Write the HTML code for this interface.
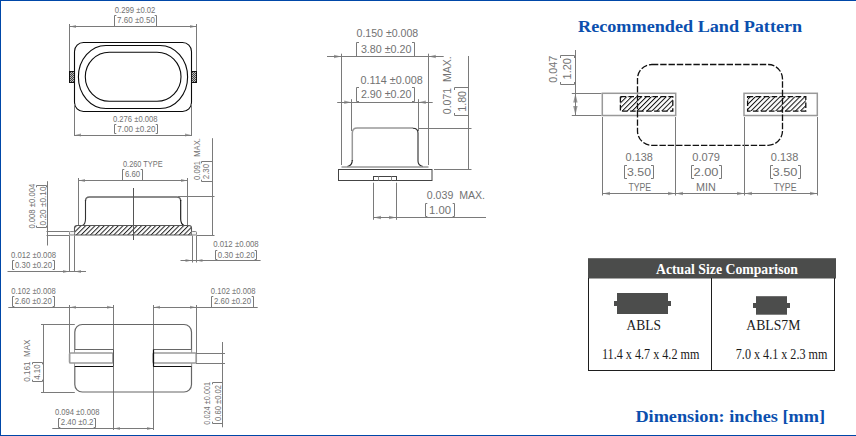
<!DOCTYPE html><html><head><meta charset="utf-8"><style>html,body{margin:0;padding:0;background:#fff;width:856px;height:436px;overflow:hidden}svg{display:block}</style></head><body>
<svg width="856" height="436" viewBox="0 0 856 436">
<defs>
<pattern id="h45" patternUnits="userSpaceOnUse" width="3.3" height="3.3" patternTransform="translate(-2 0) rotate(45)"><rect width="3.3" height="3.3" fill="#fff"/><rect x="0" y="0" width="1" height="3.3" fill="#222"/></pattern>
<pattern id="h45b" patternUnits="userSpaceOnUse" width="3.5" height="3.5" patternTransform="rotate(45)"><rect width="3.5" height="3.5" fill="#fff"/><rect x="0" y="0" width="1" height="3.5" fill="#111"/></pattern>
<pattern id="xh" patternUnits="userSpaceOnUse" width="2" height="2"><rect width="2" height="2" fill="#bbb"/><rect width="1" height="1" fill="#444"/><rect x="1" y="1" width="1" height="1" fill="#444"/></pattern>
</defs>
<rect width="856" height="436" fill="#fff"/>
<polygon points="70,26.5 76,25.0 76,28.0" fill="#a0a0a0"/>
<polygon points="196,26.5 190,25.0 190,28.0" fill="#a0a0a0"/>
<polygon points="75,135 81,133.5 81,136.5" fill="#a0a0a0"/>
<polygon points="191,135 185,133.5 185,136.5" fill="#a0a0a0"/>
<polygon points="79,180.5 85,179.0 85,182.0" fill="#a0a0a0"/>
<polygon points="187,180.5 181,179.0 181,182.0" fill="#a0a0a0"/>
<polygon points="69,271.4 63,269.9 63,272.9" fill="#a0a0a0"/>
<polygon points="75,271.4 81,269.9 81,272.9" fill="#a0a0a0"/>
<polygon points="191.5,260.5 185.5,259.0 185.5,262.0" fill="#a0a0a0"/>
<polygon points="196.5,260.5 202.5,259.0 202.5,262.0" fill="#a0a0a0"/>
<polygon points="70,307.3 76,305.8 76,308.8" fill="#a0a0a0"/>
<polygon points="113,307.3 107,305.8 107,308.8" fill="#a0a0a0"/>
<polygon points="154,307.3 160,305.8 160,308.8" fill="#a0a0a0"/>
<polygon points="196,307.3 190,305.8 190,308.8" fill="#a0a0a0"/>
<polygon points="114,428.5 120,427.0 120,430.0" fill="#a0a0a0"/>
<polygon points="153,428.5 147,427.0 147,430.0" fill="#a0a0a0"/>
<polygon points="341,56.5 334,54.7 334,58.3" fill="#a0a0a0"/>
<polygon points="428.8,56.5 435.8,54.7 435.8,58.3" fill="#a0a0a0"/>
<polygon points="351.2,102.2 344.2,100.4 344.2,104.0" fill="#a0a0a0"/>
<polygon points="418.8,102.2 425.8,100.4 425.8,104.0" fill="#a0a0a0"/>
<polygon points="374,217.5 381,215.7 381,219.3" fill="#a0a0a0"/>
<polygon points="396,217.5 389,215.7 389,219.3" fill="#a0a0a0"/>
<polygon points="575.4,93.5 573.1999999999999,102.5 577.6,102.5" fill="#999"/>
<polygon points="575.4,115 573.1999999999999,106 577.6,106" fill="#999"/>
<polygon points="603,193.5 610,191.7 610,195.3" fill="#a0a0a0"/>
<polygon points="675,193.5 668,191.7 668,195.3" fill="#a0a0a0"/>
<polygon points="676,193.5 683,191.7 683,195.3" fill="#a0a0a0"/>
<polygon points="744,193.5 737,191.7 737,195.3" fill="#a0a0a0"/>
<polygon points="745,193.5 752,191.7 752,195.3" fill="#a0a0a0"/>
<polygon points="817,193.5 810,191.7 810,195.3" fill="#a0a0a0"/>
<line x1="69.5" y1="24" x2="69.5" y2="71" stroke="#7a7a7a" stroke-width="1" />
<line x1="196.5" y1="24" x2="196.5" y2="71" stroke="#7a7a7a" stroke-width="1" />
<line x1="69.5" y1="26.5" x2="196.5" y2="26.5" stroke="#7a7a7a" stroke-width="1" />
<text x="114.8" y="13" font-family="Liberation Sans" font-size="8.4" font-weight="normal" fill="#727272" textLength="40.60" lengthAdjust="spacingAndGlyphs">0.299 &#177;0.02</text>
<path d="M116.3,15.5 H114.5 V26.5 H116.3 M154.7,15.5 H156.5 V26.5 H154.7" fill="none" stroke="#7a7a7a" stroke-width="1"/>
<text x="117" y="22.9" font-family="Liberation Sans" font-size="8.4" font-weight="normal" fill="#727272" textLength="38.00" lengthAdjust="spacingAndGlyphs">7.60 &#177;0.50</text>
<rect x="74.5" y="42.5" width="117" height="69" rx="9" ry="9" fill="none" stroke="#0a0a0a" stroke-width="1.1"/>
<path d="M106,45.5 H160 A27.6,31.5 0 0 1 160,108.5 H106 A27.6,31.5 0 0 1 106,45.5 Z" fill="none" stroke="#0a0a0a" stroke-width="1.1"/>
<path d="M109.3,52.3 H157 A24,24.5 0 0 1 157,101.3 H109.3 A24,24.5 0 0 1 109.3,52.3 Z" fill="none" stroke="#0a0a0a" stroke-width="1.1"/>
<rect x="69.5" y="71.5" width="5" height="11" fill="url(#xh)" stroke="#111" stroke-width="1"/>
<rect x="191.5" y="71.5" width="5" height="11" fill="url(#xh)" stroke="#111" stroke-width="1"/>
<line x1="74.5" y1="104" x2="74.5" y2="136" stroke="#7a7a7a" stroke-width="1" />
<line x1="191.5" y1="104" x2="191.5" y2="136" stroke="#7a7a7a" stroke-width="1" />
<line x1="74.5" y1="135.5" x2="191.5" y2="135.5" stroke="#7a7a7a" stroke-width="1" />
<text x="113" y="121.9" font-family="Liberation Sans" font-size="8.4" font-weight="normal" fill="#727272" textLength="44.50" lengthAdjust="spacingAndGlyphs">0.276 &#177;0.008</text>
<path d="M116.3,124.5 H114.5 V133.5 H116.3 M155.7,124.5 H157.5 V133.5 H155.7" fill="none" stroke="#7a7a7a" stroke-width="1"/>
<text x="117.3" y="131.8" font-family="Liberation Sans" font-size="8.4" font-weight="normal" fill="#727272" textLength="38.20" lengthAdjust="spacingAndGlyphs">7.00 &#177;0.20</text>
<line x1="78.5" y1="178" x2="78.5" y2="225.5" stroke="#7a7a7a" stroke-width="1" />
<line x1="187.5" y1="178" x2="187.5" y2="225.5" stroke="#7a7a7a" stroke-width="1" />
<line x1="78.5" y1="180.5" x2="187.5" y2="180.5" stroke="#7a7a7a" stroke-width="1" />
<text x="123" y="166.6" font-family="Liberation Sans" font-size="8.4" font-weight="normal" fill="#727272" textLength="39.60" lengthAdjust="spacingAndGlyphs">0.260 TYPE</text>
<path d="M124.3,169.5 H122.5 V180.5 H124.3 M140.7,169.5 H142.5 V180.5 H140.7" fill="none" stroke="#7a7a7a" stroke-width="1"/>
<text x="124.9" y="176.9" font-family="Liberation Sans" font-size="8.4" font-weight="normal" fill="#727272" textLength="15.20" lengthAdjust="spacingAndGlyphs">6.60</text>
<path d="M85.5,201 Q85.5,197 89.5,197 H176.7 Q180.7,197 180.7,201" fill="none" stroke="#666" stroke-width="1.3"/>
<path d="M82.5,225.5 Q85.5,224 85.5,219 V200" fill="none" stroke="#333" stroke-width="1.1"/>
<path d="M184,225.5 Q180.7,224 180.7,219 V200" fill="none" stroke="#111" stroke-width="1.1"/>
<line x1="133.5" y1="188" x2="133.5" y2="240" stroke="#555" stroke-width="1" />
<path d="M74.5,228 Q74.5,225.5 77,225.5 H189 Q191.5,225.5 191.5,228 V235 H74.5 Z" fill="url(#h45)" stroke="#555" stroke-width="1.1"/>
<line x1="133.5" y1="225" x2="133.5" y2="240" stroke="#555" stroke-width="1" />
<rect x="69.5" y="231.5" width="5" height="3.5" rx="1" fill="#f4f4f4" stroke="#777" stroke-width="0.9"/>
<rect x="191.5" y="231.5" width="5" height="3.5" rx="1" fill="#f4f4f4" stroke="#777" stroke-width="0.9"/>
<line x1="46.5" y1="231.5" x2="69.5" y2="231.5" stroke="#7a7a7a" stroke-width="1" />
<line x1="46.5" y1="235.5" x2="69.5" y2="235.5" stroke="#7a7a7a" stroke-width="1" />
<line x1="47.5" y1="181.2" x2="47.5" y2="245.5" stroke="#7a7a7a" stroke-width="1" />
<text transform="translate(34.8,228.6) rotate(-90)" x="0" y="0" font-family="Liberation Sans" font-size="8.4" fill="#727272" textLength="44.80" lengthAdjust="spacingAndGlyphs">0.008 &#177;0.004</text>
<path d="M36.5,187.3 V185.5 H46.5 V187.3 M36.5,225.7 V227.5 H46.5 V225.7" fill="none" stroke="#7a7a7a" stroke-width="1"/>
<text transform="translate(45.5,225.4) rotate(-90)" x="0" y="0" font-family="Liberation Sans" font-size="8.4" fill="#727272" textLength="38.90" lengthAdjust="spacingAndGlyphs">0.20 &#177;0.10</text>
<line x1="69.5" y1="235.5" x2="69.5" y2="272" stroke="#7a7a7a" stroke-width="1" />
<line x1="74.5" y1="235.5" x2="74.5" y2="272" stroke="#7a7a7a" stroke-width="1" />
<line x1="7.5" y1="271.5" x2="86" y2="271.5" stroke="#7a7a7a" stroke-width="1" />
<text x="11" y="257.7" font-family="Liberation Sans" font-size="8.4" font-weight="normal" fill="#727272" textLength="45.00" lengthAdjust="spacingAndGlyphs">0.012 &#177;0.008</text>
<path d="M14.3,260.5 H12.5 V269.5 H14.3 M52.7,260.5 H54.5 V269.5 H52.7" fill="none" stroke="#7a7a7a" stroke-width="1"/>
<text x="15" y="268" font-family="Liberation Sans" font-size="8.4" font-weight="normal" fill="#727272" textLength="37.00" lengthAdjust="spacingAndGlyphs">0.30 &#177;0.20</text>
<line x1="178" y1="196.5" x2="214.5" y2="196.5" stroke="#7a7a7a" stroke-width="1" />
<line x1="212.5" y1="138.2" x2="212.5" y2="235.5" stroke="#7a7a7a" stroke-width="1" />
<line x1="196.5" y1="235.5" x2="214.5" y2="235.5" stroke="#7a7a7a" stroke-width="1" />
<text transform="translate(199.8,179.9) rotate(-90)" x="0" y="0" font-family="Liberation Sans" font-size="8.4" fill="#727272" textLength="41.70" lengthAdjust="spacingAndGlyphs">0.091&#160;&#160;MAX.</text>
<path d="M201.5,163.3 V161.5 H212.5 V163.3 M201.5,179.7 V181.5 H212.5 V179.7" fill="none" stroke="#7a7a7a" stroke-width="1"/>
<text transform="translate(209.1,179.3) rotate(-90)" x="0" y="0" font-family="Liberation Sans" font-size="8.4" fill="#727272" textLength="15.50" lengthAdjust="spacingAndGlyphs">2.30</text>
<line x1="192.5" y1="235.5" x2="192.5" y2="262.5" stroke="#7a7a7a" stroke-width="1" />
<line x1="196.5" y1="235.5" x2="196.5" y2="262.5" stroke="#7a7a7a" stroke-width="1" />
<line x1="180.5" y1="260.5" x2="260.6" y2="260.5" stroke="#7a7a7a" stroke-width="1" />
<text x="213.2" y="246.8" font-family="Liberation Sans" font-size="8.4" font-weight="normal" fill="#727272" textLength="45.50" lengthAdjust="spacingAndGlyphs">0.012 &#177;0.008</text>
<path d="M217.3,250.5 H215.5 V259.5 H217.3 M254.7,250.5 H256.5 V259.5 H254.7" fill="none" stroke="#7a7a7a" stroke-width="1"/>
<text x="217.8" y="257.9" font-family="Liberation Sans" font-size="8.4" font-weight="normal" fill="#727272" textLength="37.00" lengthAdjust="spacingAndGlyphs">0.30 &#177;0.20</text>
<text x="11.2" y="293.8" font-family="Liberation Sans" font-size="8.4" font-weight="normal" fill="#727272" textLength="44.50" lengthAdjust="spacingAndGlyphs">0.102 &#177;0.008</text>
<path d="M14.3,296.5 H12.5 V306.5 H14.3 M52.7,296.5 H54.5 V306.5 H52.7" fill="none" stroke="#7a7a7a" stroke-width="1"/>
<text x="14.8" y="303.6" font-family="Liberation Sans" font-size="8.4" font-weight="normal" fill="#727272" textLength="37.00" lengthAdjust="spacingAndGlyphs">2.60 &#177;0.20</text>
<line x1="8.3" y1="307.5" x2="113.5" y2="307.5" stroke="#7a7a7a" stroke-width="1" />
<line x1="69.5" y1="305" x2="69.5" y2="353" stroke="#7a7a7a" stroke-width="1" />
<line x1="113.5" y1="305" x2="113.5" y2="430" stroke="#7a7a7a" stroke-width="1" />
<text x="210.8" y="294" font-family="Liberation Sans" font-size="8.4" font-weight="normal" fill="#727272" textLength="44.60" lengthAdjust="spacingAndGlyphs">0.102 &#177;0.008</text>
<path d="M213.3,296.5 H211.5 V307.5 H213.3 M251.7,296.5 H253.5 V307.5 H251.7" fill="none" stroke="#7a7a7a" stroke-width="1"/>
<text x="214" y="303.8" font-family="Liberation Sans" font-size="8.4" font-weight="normal" fill="#727272" textLength="37.00" lengthAdjust="spacingAndGlyphs">2.60 &#177;0.20</text>
<line x1="153.5" y1="307.5" x2="257.7" y2="307.5" stroke="#7a7a7a" stroke-width="1" />
<line x1="153.5" y1="305" x2="153.5" y2="430" stroke="#7a7a7a" stroke-width="1" />
<line x1="196.5" y1="305" x2="196.5" y2="353" stroke="#7a7a7a" stroke-width="1" />
<rect x="74.8" y="324.5" width="116.7" height="67.5" rx="7.5" ry="7.5" fill="none" stroke="#666" stroke-width="1.2"/>
<line x1="41" y1="324.5" x2="74.8" y2="324.5" stroke="#7a7a7a" stroke-width="1" />
<line x1="41" y1="392.5" x2="74.8" y2="392.5" stroke="#7a7a7a" stroke-width="1" />
<line x1="43.5" y1="324.5" x2="43.5" y2="392" stroke="#7a7a7a" stroke-width="1" />
<text transform="translate(30.2,381.7) rotate(-90)" x="0" y="0" font-family="Liberation Sans" font-size="8.4" fill="#727272" textLength="42.10" lengthAdjust="spacingAndGlyphs">0.161&#160;&#160;MAX</text>
<path d="M32.5,364.3 V362.5 H42.5 V364.3 M32.5,379.7 V381.5 H42.5 V379.7" fill="none" stroke="#7a7a7a" stroke-width="1"/>
<text transform="translate(40.4,379.8) rotate(-90)" x="0" y="0" font-family="Liberation Sans" font-size="8.4" fill="#727272" textLength="15.40" lengthAdjust="spacingAndGlyphs">4.10</text>
<rect x="74.8" y="349.5" width="38.2" height="17" fill="#fff" stroke="none"/>
<line x1="74.8" y1="349.5" x2="113" y2="349.5" stroke="#666" stroke-width="1" />
<line x1="74.8" y1="366.5" x2="113" y2="366.5" stroke="#111" stroke-width="1.2" />
<rect x="69.6" y="353" width="43.400000000000006" height="10" rx="1" fill="#fff" stroke="#9a9a9a" stroke-width="1.7"/>
<rect x="153.2" y="349.5" width="38.20000000000002" height="17" fill="#fff" stroke="none"/>
<line x1="153.2" y1="349.5" x2="191.4" y2="349.5" stroke="#666" stroke-width="1" />
<line x1="153.2" y1="366.5" x2="191.4" y2="366.5" stroke="#111" stroke-width="1.2" />
<rect x="153.2" y="353" width="43.0" height="10" rx="1" fill="#fff" stroke="#9a9a9a" stroke-width="1.7"/>
<line x1="113.5" y1="349.5" x2="113.5" y2="366.5" stroke="#555" stroke-width="1" />
<line x1="153.5" y1="349.5" x2="153.5" y2="366.5" stroke="#111" stroke-width="1.2" />
<line x1="196" y1="353.5" x2="225" y2="353.5" stroke="#7a7a7a" stroke-width="1" />
<line x1="196" y1="363.5" x2="225" y2="363.5" stroke="#7a7a7a" stroke-width="1" />
<line x1="222.5" y1="342" x2="222.5" y2="427.3" stroke="#7a7a7a" stroke-width="1" />
<text transform="translate(210.2,424.7) rotate(-90)" x="0" y="0" font-family="Liberation Sans" font-size="8.4" fill="#727272" textLength="42.90" lengthAdjust="spacingAndGlyphs">0.024 &#177;0.001</text>
<path d="M212.5,384.3 V382.5 H222.5 V384.3 M212.5,421.7 V423.5 H222.5 V421.7" fill="none" stroke="#7a7a7a" stroke-width="1"/>
<text transform="translate(221,420.9) rotate(-90)" x="0" y="0" font-family="Liberation Sans" font-size="8.4" fill="#727272" textLength="35.90" lengthAdjust="spacingAndGlyphs">0.60 &#177;0.02</text>
<line x1="52.3" y1="428.5" x2="153.3" y2="428.5" stroke="#7a7a7a" stroke-width="1" />
<text x="54.9" y="415.1" font-family="Liberation Sans" font-size="8.4" font-weight="normal" fill="#727272" textLength="44.50" lengthAdjust="spacingAndGlyphs">0.094 &#177;0.008</text>
<path d="M60.3,418.5 H58.5 V427.5 H60.3 M93.7,418.5 H95.5 V427.5 H93.7" fill="none" stroke="#7a7a7a" stroke-width="1"/>
<text x="60.8" y="425.3" font-family="Liberation Sans" font-size="8.4" font-weight="normal" fill="#727272" textLength="32.70" lengthAdjust="spacingAndGlyphs">2.40 &#177;0.2</text>
<text x="356.5" y="36.8" font-family="Liberation Sans" font-size="10" font-weight="normal" fill="#727272" textLength="61.70" lengthAdjust="spacingAndGlyphs">0.150 &#177;0.008</text>
<path d="M359.0,42.5 H356.5 V56.5 H359.0 M412.0,42.5 H414.5 V56.5 H412.0" fill="none" stroke="#7a7a7a" stroke-width="1"/>
<text x="360.9" y="52.9" font-family="Liberation Sans" font-size="10" font-weight="normal" fill="#727272" textLength="50.60" lengthAdjust="spacingAndGlyphs">3.80 &#177;0.20</text>
<line x1="327" y1="56.5" x2="443.7" y2="56.5" stroke="#7a7a7a" stroke-width="1" />
<line x1="341.5" y1="53.7" x2="341.5" y2="165" stroke="#7a7a7a" stroke-width="1" />
<line x1="428.5" y1="53.7" x2="428.5" y2="165" stroke="#7a7a7a" stroke-width="1" />
<text x="360.6" y="83.7" font-family="Liberation Sans" font-size="10" font-weight="normal" fill="#727272" textLength="62.10" lengthAdjust="spacingAndGlyphs">0.114 &#177;0.008</text>
<path d="M359.0,87.5 H356.5 V101.5 H359.0 M412.0,87.5 H414.5 V101.5 H412.0" fill="none" stroke="#7a7a7a" stroke-width="1"/>
<text x="360.9" y="98.3" font-family="Liberation Sans" font-size="10" font-weight="normal" fill="#727272" textLength="50.60" lengthAdjust="spacingAndGlyphs">2.90 &#177;0.20</text>
<line x1="337.2" y1="102.5" x2="432.7" y2="102.5" stroke="#7a7a7a" stroke-width="1" />
<line x1="351.5" y1="99.2" x2="351.5" y2="131" stroke="#7a7a7a" stroke-width="1" />
<line x1="418.5" y1="99.2" x2="418.5" y2="131" stroke="#7a7a7a" stroke-width="1" />
<path d="M352.3,161 V133 Q352.3,128 357.3,128 H413" fill="none" stroke="#999" stroke-width="1.5"/>
<path d="M347.3,166.6 Q352.3,165.5 352.3,160" fill="none" stroke="#222" stroke-width="1.1"/>
<path d="M412.9,128.2 Q418,128.2 418,133 V161 Q418,165.5 422.9,166.6" fill="none" stroke="#2a2a2a" stroke-width="1.1"/>
<line x1="341.5" y1="167" x2="428.5" y2="167" stroke="#999" stroke-width="1.6" />
<rect x="338.5" y="169.5" width="93.5" height="11" fill="none" stroke="#444" stroke-width="1"/>
<rect x="373.5" y="176.5" width="23" height="4" fill="none" stroke="#444" stroke-width="1"/>
<line x1="378.5" y1="176.5" x2="378.5" y2="180.5" stroke="#888" stroke-width="1" />
<line x1="391.5" y1="176.5" x2="391.5" y2="180.5" stroke="#888" stroke-width="1" />
<line x1="373.5" y1="182.7" x2="373.5" y2="219.8" stroke="#7a7a7a" stroke-width="1" />
<line x1="396.5" y1="182.7" x2="396.5" y2="219.8" stroke="#7a7a7a" stroke-width="1" />
<line x1="373.5" y1="217.5" x2="486" y2="217.5" stroke="#7a7a7a" stroke-width="1" />
<text x="426.8" y="198.5" font-family="Liberation Sans" font-size="10" font-weight="normal" fill="#727272" textLength="58.20" lengthAdjust="spacingAndGlyphs">0.039&#160;&#160;MAX.</text>
<path d="M427.3,203.5 H425.5 V216.5 H427.3 M452.7,203.5 H454.5 V216.5 H452.7" fill="none" stroke="#7a7a7a" stroke-width="1"/>
<text x="429" y="213.5" font-family="Liberation Sans" font-size="10" font-weight="normal" fill="#727272" textLength="22.00" lengthAdjust="spacingAndGlyphs">1.00</text>
<line x1="418" y1="128.5" x2="471.5" y2="128.5" stroke="#7a7a7a" stroke-width="1" />
<line x1="434" y1="169.5" x2="471.5" y2="169.5" stroke="#7a7a7a" stroke-width="1" />
<line x1="468.5" y1="56" x2="468.5" y2="169.5" stroke="#7a7a7a" stroke-width="1" />
<text transform="translate(451.2,114.2) rotate(-90)" x="0" y="0" font-family="Liberation Sans" font-size="10" fill="#727272" textLength="57.80" lengthAdjust="spacingAndGlyphs">0.071&#160;&#160;MAX.</text>
<path d="M454.5,90.0 V87.5 H468.5 V90.0 M454.5,113.0 V115.5 H468.5 V113.0" fill="none" stroke="#7a7a7a" stroke-width="1"/>
<text transform="translate(465.7,111.8) rotate(-90)" x="0" y="0" font-family="Liberation Sans" font-size="10" fill="#727272" textLength="20.90" lengthAdjust="spacingAndGlyphs">1.80</text>
<text x="578" y="31.7" font-family="Liberation Serif" font-size="17.2" font-weight="bold" fill="#0b4fae" textLength="224.20" lengthAdjust="spacingAndGlyphs">Recommended Land Pattern</text>
<line x1="575.5" y1="50" x2="575.5" y2="115.5" stroke="#7a7a7a" stroke-width="1" />
<text transform="translate(556.9,82.7) rotate(-90)" x="0" y="0" font-family="Liberation Sans" font-size="10" fill="#727272" textLength="26.80" lengthAdjust="spacingAndGlyphs">0.047</text>
<path d="M560.5,58.0 V55.5 H574.5 V58.0 M560.5,82.0 V84.5 H574.5 V82.0" fill="none" stroke="#7a7a7a" stroke-width="1"/>
<text transform="translate(571.3,79.4) rotate(-90)" x="0" y="0" font-family="Liberation Sans" font-size="10" fill="#727272" textLength="21.20" lengthAdjust="spacingAndGlyphs">1.20</text>
<line x1="571.8" y1="93.5" x2="601.5" y2="93.5" stroke="#7a7a7a" stroke-width="1" />
<line x1="571.8" y1="115.5" x2="601.5" y2="115.5" stroke="#7a7a7a" stroke-width="1" />
<rect x="602.3" y="93.3" width="73.4" height="22.2" fill="none" stroke="#999" stroke-width="1.5"/>
<rect x="744" y="93.3" width="73.3" height="22.2" fill="none" stroke="#999" stroke-width="1.5"/>
<rect x="620.4" y="96.6" width="52.4" height="14.5" fill="url(#h45b)" stroke="#111" stroke-width="1.3" stroke-dasharray="5.6,2.4"/>
<rect x="747.6" y="96.6" width="58.2" height="14.5" fill="url(#h45b)" stroke="#111" stroke-width="1.3" stroke-dasharray="5.6,2.4"/>
<rect x="637.5" y="64.5" width="145" height="80.8" rx="14.4" ry="14.4" fill="none" stroke="#111" stroke-width="1.3" stroke-dasharray="6.4,1.9"/>
<line x1="602.5" y1="117" x2="602.5" y2="195.5" stroke="#7a7a7a" stroke-width="1" />
<line x1="675.5" y1="117" x2="675.5" y2="195.5" stroke="#7a7a7a" stroke-width="1" />
<line x1="744.5" y1="117" x2="744.5" y2="195.5" stroke="#7a7a7a" stroke-width="1" />
<line x1="817.5" y1="117" x2="817.5" y2="195.5" stroke="#7a7a7a" stroke-width="1" />
<line x1="602.5" y1="193.5" x2="817.5" y2="193.5" stroke="#7a7a7a" stroke-width="1" />
<text x="625.6" y="161" font-family="Liberation Sans" font-size="10" font-weight="normal" fill="#727272" textLength="27.20" lengthAdjust="spacingAndGlyphs">0.138</text>
<path d="M627.0,165.5 H624.5 V178.5 H627.0 M651.0,165.5 H653.5 V178.5 H651.0" fill="none" stroke="#7a7a7a" stroke-width="1"/>
<text x="627" y="176.2" font-family="Liberation Sans" font-size="10" font-weight="normal" fill="#727272" textLength="24.00" lengthAdjust="spacingAndGlyphs">3.50</text>
<text x="628.4" y="190.6" font-family="Liberation Sans" font-size="10" font-weight="normal" fill="#727272" textLength="22.70" lengthAdjust="spacingAndGlyphs">TYPE</text>
<text x="692.3" y="161" font-family="Liberation Sans" font-size="10" font-weight="normal" fill="#727272" textLength="27.70" lengthAdjust="spacingAndGlyphs">0.079</text>
<path d="M694.0,165.5 H691.5 V178.5 H694.0 M719.0,165.5 H721.5 V178.5 H719.0" fill="none" stroke="#7a7a7a" stroke-width="1"/>
<text x="693.5" y="176.2" font-family="Liberation Sans" font-size="10" font-weight="normal" fill="#727272" textLength="25.00" lengthAdjust="spacingAndGlyphs">2.00</text>
<text x="696.1" y="190.6" font-family="Liberation Sans" font-size="10" font-weight="normal" fill="#727272" textLength="19.80" lengthAdjust="spacingAndGlyphs">MIN</text>
<text x="770.8" y="161" font-family="Liberation Sans" font-size="10" font-weight="normal" fill="#727272" textLength="27.50" lengthAdjust="spacingAndGlyphs">0.138</text>
<path d="M773.0,165.5 H770.5 V178.5 H773.0 M798.0,165.5 H800.5 V178.5 H798.0" fill="none" stroke="#7a7a7a" stroke-width="1"/>
<text x="772.5" y="176.2" font-family="Liberation Sans" font-size="10" font-weight="normal" fill="#727272" textLength="25.00" lengthAdjust="spacingAndGlyphs">3.50</text>
<text x="773.7" y="190.6" font-family="Liberation Sans" font-size="10" font-weight="normal" fill="#727272" textLength="22.80" lengthAdjust="spacingAndGlyphs">TYPE</text>
<rect x="588" y="258.2" width="248" height="20.3" fill="#4b4c4b"/>
<text x="656" y="274.2" font-family="Liberation Serif" font-size="14" font-weight="bold" fill="#fff" textLength="142.00" lengthAdjust="spacingAndGlyphs">Actual Size Comparison</text>
<line x1="588.5" y1="278" x2="588.5" y2="371" stroke="#1e1e1e" stroke-width="1.05" />
<line x1="711.5" y1="278" x2="711.5" y2="371" stroke="#1e1e1e" stroke-width="1.05" />
<line x1="834.5" y1="278" x2="834.5" y2="371" stroke="#1e1e1e" stroke-width="1.05" />
<line x1="588" y1="370.5" x2="835" y2="370.5" stroke="#1e1e1e" stroke-width="1.05" />
<rect x="617" y="293" width="51" height="21" fill="#4c4d4c"/>
<rect x="614" y="301" width="57" height="5" fill="#4c4d4c"/>
<rect x="756" y="296.2" width="31" height="18.5" fill="#4c4d4c"/>
<rect x="753" y="303" width="37" height="5" fill="#4c4d4c"/>
<text x="626.6" y="329.6" font-family="Liberation Serif" font-size="14" font-weight="normal" fill="#1a1a1a" textLength="34.40" lengthAdjust="spacingAndGlyphs">ABLS</text>
<text x="746.3" y="329.6" font-family="Liberation Serif" font-size="14" font-weight="normal" fill="#1a1a1a" textLength="54.00" lengthAdjust="spacingAndGlyphs">ABLS7M</text>
<text x="602" y="358.7" font-family="Liberation Serif" font-size="13.7" font-weight="normal" fill="#1a1a1a" textLength="97.40" lengthAdjust="spacingAndGlyphs">11.4 x 4.7 x 4.2 mm</text>
<text x="735.8" y="358.7" font-family="Liberation Serif" font-size="13.7" font-weight="normal" fill="#1a1a1a" textLength="91.60" lengthAdjust="spacingAndGlyphs">7.0 x 4.1 x 2.3 mm</text>
<text x="635.4" y="422" font-family="Liberation Serif" font-size="17.2" font-weight="bold" fill="#0b4fae" textLength="189.70" lengthAdjust="spacingAndGlyphs">Dimension: inches [mm]</text>
<rect x="0" y="0" width="856" height="1" fill="#0047a8"/>
<rect x="0" y="0" width="1" height="436" fill="#0047a8"/>
<rect x="0" y="435" width="856" height="1" fill="#0047a8"/>
</svg></body></html>
